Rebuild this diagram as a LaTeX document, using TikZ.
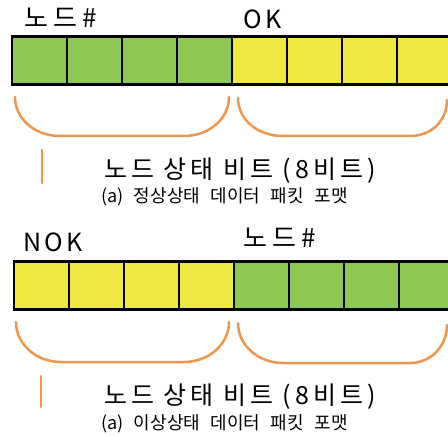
\documentclass[tikz,border=0pt]{standalone}
\usepackage{fontspec}
\setmainfont{Noto Sans CJK KR}
\newfontfamily\spacedfont[LetterSpace=16]{Noto Sans CJK KR}
\newfontfamily\fieldfont[LetterSpace=14]{Noto Sans CJK KR}
\newfontfamily\hangulfieldfont[LetterSpace=20]{Noto Sans CJK KR}
\newfontfamily\capfont[WordSpace=2.6]{Noto Sans CJK KR}

\definecolor{bitgreen}{RGB}{141,199,84}
\definecolor{bityellow}{RGB}{238,232,66}
\definecolor{braceorange}{RGB}{240,150,76}

\tikzset{
  cell/.style={draw=black, line width=2.5pt, minimum width=55pt, minimum height=48pt, inner sep=0pt, outer sep=0pt},
  nodecell/.style={cell, fill=bitgreen},
  okcell/.style={cell, fill=bityellow},
  fieldlabel/.style={anchor=west, inner sep=0pt, font=\fieldfont\fontsize{25}{28}\selectfont},
  nodelabel/.style={anchor=west, inner sep=0pt, font=\hangulfieldfont\fontsize{26}{29}\selectfont},
  bitlabel/.style={anchor=west, inner sep=0pt, font=\spacedfont\fontsize{25}{28}\selectfont},
  caplabel/.style={anchor=west, inner sep=0pt, font=\capfont\fontsize{18}{21}\selectfont},
  brace/.style={draw=braceorange, line width=2.5pt, line cap=round}
}

\begin{document}
\begin{tikzpicture}[x=1pt, y=-1pt]
      \clip (0,0) rectangle (448,436);

      % Nodes: (a) normal state
      \node[nodelabel] (anode) at (24,18) {노드\#};
      \node[fieldlabel] (aok) at (243,19) {OK};
      \node[nodecell] (a1) at (39.5,60.5) {};
      \node[nodecell] (a2) at (94.5,60.5) {};
      \node[nodecell] (a3) at (149.5,60.5) {};
      \node[nodecell] (a4) at (204.5,60.5) {};
      \node[okcell] (a5) at (259.5,60.5) {};
      \node[okcell] (a6) at (314.5,60.5) {};
      \node[okcell] (a7) at (369.5,60.5) {};
      \node[okcell] (a8) at (424.5,60.5) {};
      \coordinate (abl) at (15,97);
      \coordinate (abr) at (238,98);
      \coordinate (atick) at (42,150);
      \node[bitlabel] (abits) at (104,171) {노드 상태 비트 (8비트)};
      \node[caplabel] (acap) at (101,197) {(a) 정상상태 데이터 패킷 포맷};

      % Nodes: (b) abnormal state
      \node[fieldlabel] (bnok) at (23,242) {NOK};
      \node[nodelabel] (bnode) at (243,238) {노드\#};
      \node[okcell] (b1) at (41.5,285.5) {};
      \node[okcell] (b2) at (96.5,285.5) {};
      \node[okcell] (b3) at (151.5,285.5) {};
      \node[okcell] (b4) at (206.5,285.5) {};
      \node[nodecell] (b5) at (261.5,285.5) {};
      \node[nodecell] (b6) at (316.5,285.5) {};
      \node[nodecell] (b7) at (371.5,285.5) {};
      \node[nodecell] (b8) at (426.5,285.5) {};
      \coordinate (bbl) at (16,322);
      \coordinate (bbr) at (238,323);
      \coordinate (btick) at (41,376);
      \node[bitlabel] (bbits) at (104,397) {노드 상태 비트 (8비트)};
      \node[caplabel] (bcap) at (101,424) {(a) 이상상태 데이터 패킷 포맷};

      % Braces
      \draw[brace] (abl) .. controls +(0,22) and +(-25,0) .. ++(45,39) -- ++(124,0) .. controls +(25,0) and +(0,22) .. ++(45,-39);
      \draw[brace] (abr) .. controls +(0,22) and +(-25,0) .. ++(45,38) -- ++(127,0) .. controls +(22,0) and +(0,20) .. ++(37,-36);
      \draw[brace] (atick) -- ++(0,33);
      \draw[brace] (bbl) .. controls +(0,22) and +(-25,0) .. ++(45,40) -- ++(123,0) .. controls +(25,0) and +(0,22) .. ++(45,-40);
      \draw[brace] (bbr) .. controls +(0,22) and +(-25,0) .. ++(45,40) -- ++(127,0) .. controls +(22,0) and +(0,20) .. ++(37,-38);
      \draw[brace] (btick) -- ++(0,31);

    \end{tikzpicture}
\end{document}
